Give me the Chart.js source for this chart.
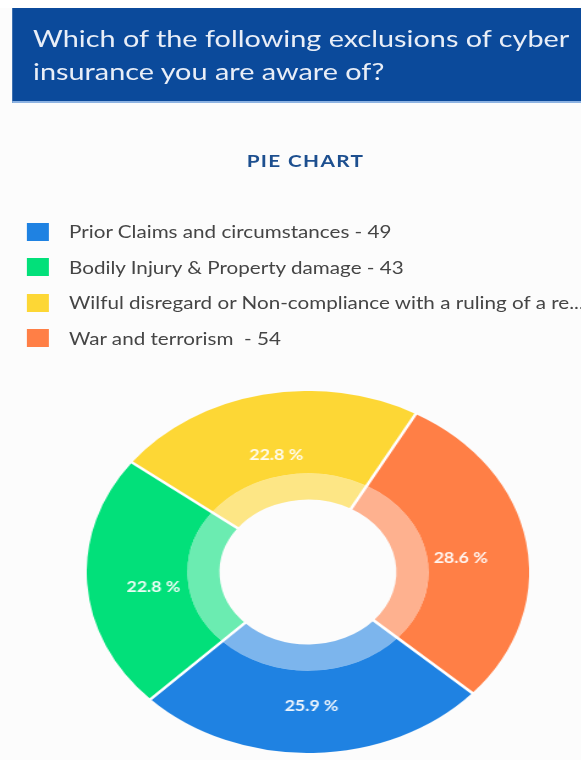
<!DOCTYPE html>
<html>
<head>
<meta charset="utf-8">
<script src="https://cdn.jsdelivr.net/npm/chart.js@4.4.0/dist/chart.umd.min.js"></script>
<style>
  html, body { margin: 0; padding: 0; background: #fff; overflow: hidden; }
  body { width: 581px; height: 760px; position: relative; font-family: Lato, "Open Sans", sans-serif; }
  /* the whole card is drawn a bit wide, so squeeze the layout and stretch it back out */
  #page { position: absolute; left: 0; top: 0; width: 476px; height: 760px;
          transform: scaleX(1.222); transform-origin: 0 0; background: #fcfcfc; }
  #topStrip { position: absolute; left: 0; top: 0; width: 100%; height: 8px; background: #fff; }
  #header { position: absolute; left: 10px; top: 8px; width: 480px; height: 95px;
            background: #0b4a9b; border-bottom: 2px solid #8db3e2; box-sizing: border-box;
            padding: 14px 0 0 17px; color: #e9eef7; font-size: 23.6px; line-height: 33px; }
  #title { position: absolute; left: 0; width: 500px; top: 150px; text-align: center;
           font-size: 17px; font-weight: 700; color: #1d4f8f; letter-spacing: 1.1px; }
  #legend { position: absolute; left: 22px; top: 214px; }
  .row { display: flex; align-items: center; height: 35.5px; white-space: pre;
         font-size: 16.9px; color: #454545; }
  .box { width: 17.5px; height: 18px; margin-right: 17px; flex: none; }
  #chartWrap { position: absolute; left: 71px; top: 391px; width: 362px; height: 362px; }
</style>
</head>
<body>
<div id="page">
  <div id="topStrip"></div>
  <div id="header">Which of the following exclusions of cyber<br>insurance you are aware of?</div>
  <div id="title">PIE CHART</div>
  <div id="legend"></div>
  <div id="chartWrap"><canvas id="pie"></canvas></div>
</div>
<script>
const categories = [
  'Prior Claims and circumstances',
  'Bodily Injury & Property damage',
  'Wilful disregard or Non-compliance with a ruling of a re...',
  'War and terrorism '
];
const counts = [49, 43, 43, 54];
const colors = ['#1f82e2', '#02e07a', '#fdd735', '#ff7f46'];
const lightColors = ['rgba(31,130,226,0.58)', 'rgba(2,224,122,0.58)', 'rgba(253,215,53,0.6)', 'rgba(255,127,70,0.6)'];

// legend rows: "name - count", long names are already cut short
const legend = document.getElementById('legend');
categories.forEach((name, i) => {
    const row = document.createElement('div');
    row.className = 'row';
    const box = document.createElement('span');
    box.className = 'box';
    box.style.background = colors[i];
    const txt = document.createElement('span');
    txt.textContent = name.endsWith('...') ? name : name + ' - ' + counts[i];
    row.appendChild(box);
    row.appendChild(txt);
    legend.appendChild(row);
});

// white separators across both rings + percentage labels in the middle of the ring
const ringDecor = {
    id: 'ringDecor',
    afterDatasetsDraw(chart) {
        const outer = chart.getDatasetMeta(0);
        const inner = chart.getDatasetMeta(1);
        const total = counts.reduce((a, b) => a + b, 0);
        const ctx = chart.ctx;
        ctx.save();

        ctx.strokeStyle = '#ffffff';
        ctx.lineWidth = 2.5;
        outer.data.forEach((arc, i) => {
            const p = arc.getProps(['x', 'y', 'startAngle', 'outerRadius']);
            const rIn = inner.data[i].getProps(['innerRadius']).innerRadius;
            const a = p.startAngle;
            ctx.beginPath();
            ctx.moveTo(p.x + Math.cos(a) * (rIn - 1), p.y + Math.sin(a) * (rIn - 1));
            ctx.lineTo(p.x + Math.cos(a) * (p.outerRadius + 1), p.y + Math.sin(a) * (p.outerRadius + 1));
            ctx.stroke();
        });

        ctx.font = 'bold 14.5px Lato, "Open Sans", sans-serif';
        ctx.fillStyle = 'rgba(255,255,255,0.92)';
        ctx.textAlign = 'center';
        ctx.textBaseline = 'top';
        outer.data.forEach((arc, i) => {
            const p = arc.getProps(['x', 'y', 'startAngle', 'endAngle', 'outerRadius']);
            const rIn = inner.data[i].getProps(['innerRadius']).innerRadius;
            const mid = (p.startAngle + p.endAngle) / 2;
            const r = (p.outerRadius + rIn) / 2;
            const pct = (counts[i] / total * 100).toFixed(1) + ' %';
            ctx.fillText(pct, p.x + Math.cos(mid) * r, p.y + Math.sin(mid) * r);
        });
        ctx.restore();
    }
};

new Chart(document.getElementById('pie').getContext('2d'), {
    type: 'doughnut',
    data: {
        labels: categories,
        datasets: [{
            data: counts,
            backgroundColor: colors,
            borderWidth: 0,
            weight: 0.455
        }, {
            data: counts,
            backgroundColor: lightColors,
            borderWidth: 0,
            weight: 0.145
        }]
    },
    options: {
        responsive: true,
        maintainAspectRatio: false,
        animation: false,
        rotation: 132,
        cutout: '40%',
        hoverOffset: 0,
        layout: { padding: 0 },
        plugins: {
            legend: { display: false },
            tooltip: { enabled: false }
        }
    },
    plugins: [ringDecor]
});
</script>
</body>
</html>
